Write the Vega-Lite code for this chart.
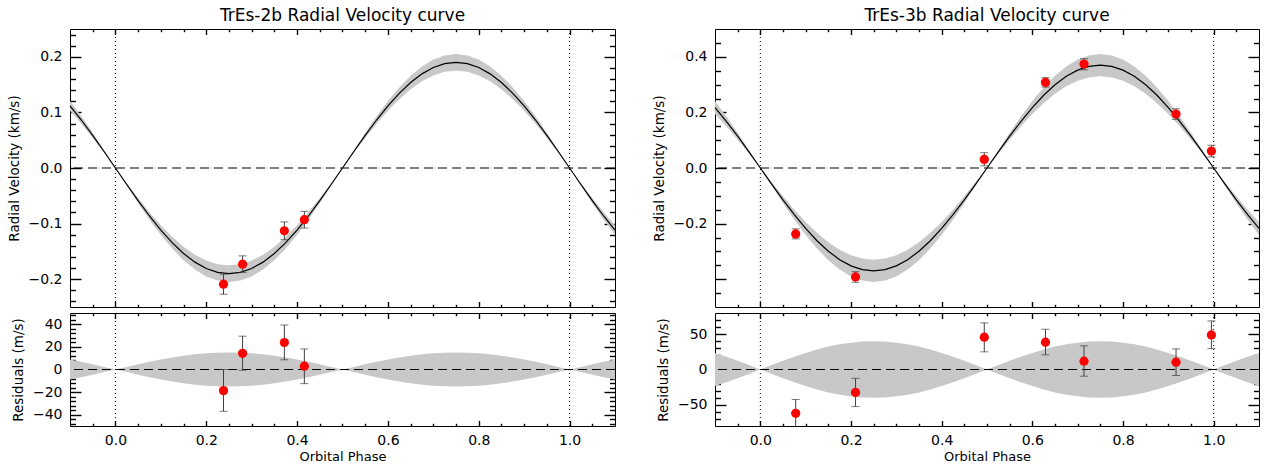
{
"$schema":"https://vega.github.io/schema/vega-lite/v6.json",
"background":"white",
"padding":{"left":6,"top":6,"right":5,"bottom":2},
"config":{
 "view":{"stroke":"black","strokeWidth":1},
 "font":"DejaVu Sans",
 "title":{"font":"DejaVu Sans","fontSize":17,"fontWeight":"normal","color":"black","offset":3,"anchor":"middle"},
 "axis":{"domain":false,"grid":false,"tickColor":"#000000","tickOpacity":1,"tickWidth":1.4,"labelFont":"DejaVu Sans","labelFontSize":14,"labelColor":"black","titleFont":"DejaVu Sans","titleFontSize":13.5,"titleFontWeight":"normal","titleColor":"black","minExtent":0,"labelOverlap":false,"labelFlush":false,"zindex":2}
},
"datasets":{
"m2":[
{"p":-0.1,"v":0.1117,"lo":0.1029,"hi":0.1205,"rl":-8.8,"rh":8.8},
{"p":-0.075,"v":0.0863,"lo":0.0795,"hi":0.0931,"rl":-6.8,"rh":6.8},
{"p":-0.05,"v":0.0587,"lo":0.0541,"hi":0.0633,"rl":-4.6,"rh":4.6},
{"p":-0.025,"v":0.0297,"lo":0.0274,"hi":0.032,"rl":-2.3,"rh":2.3},
{"p":0,"v":0,"lo":0,"hi":0,"rl":0,"rh":0},
{"p":0.025,"v":-0.0297,"lo":-0.032,"hi":-0.0274,"rl":-2.3,"rh":2.3},
{"p":0.05,"v":-0.0587,"lo":-0.0633,"hi":-0.0541,"rl":-4.6,"rh":4.6},
{"p":0.075,"v":-0.0863,"lo":-0.0931,"hi":-0.0795,"rl":-6.8,"rh":6.8},
{"p":0.1,"v":-0.1117,"lo":-0.1205,"hi":-0.1029,"rl":-8.8,"rh":8.8},
{"p":0.125,"v":-0.1343,"lo":-0.1449,"hi":-0.1237,"rl":-10.6,"rh":10.6},
{"p":0.15,"v":-0.1537,"lo":-0.1658,"hi":-0.1416,"rl":-12.1,"rh":12.1},
{"p":0.175,"v":-0.1693,"lo":-0.1827,"hi":-0.1559,"rl":-13.4,"rh":13.4},
{"p":0.2,"v":-0.1807,"lo":-0.195,"hi":-0.1664,"rl":-14.3,"rh":14.3},
{"p":0.225,"v":-0.1877,"lo":-0.2025,"hi":-0.1729,"rl":-14.8,"rh":14.8},
{"p":0.25,"v":-0.19,"lo":-0.205,"hi":-0.175,"rl":-15,"rh":15},
{"p":0.275,"v":-0.1877,"lo":-0.2025,"hi":-0.1729,"rl":-14.8,"rh":14.8},
{"p":0.3,"v":-0.1807,"lo":-0.195,"hi":-0.1664,"rl":-14.3,"rh":14.3},
{"p":0.325,"v":-0.1693,"lo":-0.1827,"hi":-0.1559,"rl":-13.4,"rh":13.4},
{"p":0.35,"v":-0.1537,"lo":-0.1658,"hi":-0.1416,"rl":-12.1,"rh":12.1},
{"p":0.375,"v":-0.1343,"lo":-0.1449,"hi":-0.1237,"rl":-10.6,"rh":10.6},
{"p":0.4,"v":-0.1117,"lo":-0.1205,"hi":-0.1029,"rl":-8.8,"rh":8.8},
{"p":0.425,"v":-0.0863,"lo":-0.0931,"hi":-0.0795,"rl":-6.8,"rh":6.8},
{"p":0.45,"v":-0.0587,"lo":-0.0633,"hi":-0.0541,"rl":-4.6,"rh":4.6},
{"p":0.475,"v":-0.0297,"lo":-0.032,"hi":-0.0274,"rl":-2.3,"rh":2.3},
{"p":0.5,"v":0,"lo":0,"hi":0,"rl":0,"rh":0},
{"p":0.525,"v":0.0297,"lo":0.0274,"hi":0.032,"rl":-2.3,"rh":2.3},
{"p":0.55,"v":0.0587,"lo":0.0541,"hi":0.0633,"rl":-4.6,"rh":4.6},
{"p":0.575,"v":0.0863,"lo":0.0795,"hi":0.0931,"rl":-6.8,"rh":6.8},
{"p":0.6,"v":0.1117,"lo":0.1029,"hi":0.1205,"rl":-8.8,"rh":8.8},
{"p":0.625,"v":0.1343,"lo":0.1237,"hi":0.1449,"rl":-10.6,"rh":10.6},
{"p":0.65,"v":0.1537,"lo":0.1416,"hi":0.1658,"rl":-12.1,"rh":12.1},
{"p":0.675,"v":0.1693,"lo":0.1559,"hi":0.1827,"rl":-13.4,"rh":13.4},
{"p":0.7,"v":0.1807,"lo":0.1664,"hi":0.195,"rl":-14.3,"rh":14.3},
{"p":0.725,"v":0.1877,"lo":0.1729,"hi":0.2025,"rl":-14.8,"rh":14.8},
{"p":0.75,"v":0.19,"lo":0.175,"hi":0.205,"rl":-15,"rh":15},
{"p":0.775,"v":0.1877,"lo":0.1729,"hi":0.2025,"rl":-14.8,"rh":14.8},
{"p":0.8,"v":0.1807,"lo":0.1664,"hi":0.195,"rl":-14.3,"rh":14.3},
{"p":0.825,"v":0.1693,"lo":0.1559,"hi":0.1827,"rl":-13.4,"rh":13.4},
{"p":0.85,"v":0.1537,"lo":0.1416,"hi":0.1658,"rl":-12.1,"rh":12.1},
{"p":0.875,"v":0.1343,"lo":0.1237,"hi":0.1449,"rl":-10.6,"rh":10.6},
{"p":0.9,"v":0.1117,"lo":0.1029,"hi":0.1205,"rl":-8.8,"rh":8.8},
{"p":0.925,"v":0.0863,"lo":0.0795,"hi":0.0931,"rl":-6.8,"rh":6.8},
{"p":0.95,"v":0.0587,"lo":0.0541,"hi":0.0633,"rl":-4.6,"rh":4.6},
{"p":0.975,"v":0.0297,"lo":0.0274,"hi":0.032,"rl":-2.3,"rh":2.3},
{"p":1,"v":0,"lo":0,"hi":0,"rl":0,"rh":0},
{"p":1.025,"v":-0.0297,"lo":-0.032,"hi":-0.0274,"rl":-2.3,"rh":2.3},
{"p":1.05,"v":-0.0587,"lo":-0.0633,"hi":-0.0541,"rl":-4.6,"rh":4.6},
{"p":1.075,"v":-0.0863,"lo":-0.0931,"hi":-0.0795,"rl":-6.8,"rh":6.8},
{"p":1.1,"v":-0.1117,"lo":-0.1205,"hi":-0.1029,"rl":-8.8,"rh":8.8}
],
"m3":[
{"p":-0.1,"v":0.2175,"lo":0.194,"hi":0.241,"rl":-23.5,"rh":23.5},
{"p":-0.075,"v":0.168,"lo":0.1498,"hi":0.1862,"rl":-18.2,"rh":18.2},
{"p":-0.05,"v":0.1143,"lo":0.1019,"hi":0.1267,"rl":-12.4,"rh":12.4},
{"p":-0.025,"v":0.0579,"lo":0.0516,"hi":0.0642,"rl":-6.3,"rh":6.3},
{"p":0,"v":0,"lo":0,"hi":0,"rl":0,"rh":0},
{"p":0.025,"v":-0.0579,"lo":-0.0642,"hi":-0.0516,"rl":-6.3,"rh":6.3},
{"p":0.05,"v":-0.1143,"lo":-0.1267,"hi":-0.1019,"rl":-12.4,"rh":12.4},
{"p":0.075,"v":-0.168,"lo":-0.1862,"hi":-0.1498,"rl":-18.2,"rh":18.2},
{"p":0.1,"v":-0.2175,"lo":-0.241,"hi":-0.194,"rl":-23.5,"rh":23.5},
{"p":0.125,"v":-0.2616,"lo":-0.2899,"hi":-0.2333,"rl":-28.3,"rh":28.3},
{"p":0.15,"v":-0.2993,"lo":-0.3317,"hi":-0.2669,"rl":-32.4,"rh":32.4},
{"p":0.175,"v":-0.3297,"lo":-0.3653,"hi":-0.2941,"rl":-35.6,"rh":35.6},
{"p":0.2,"v":-0.3519,"lo":-0.3899,"hi":-0.3139,"rl":-38,"rh":38},
{"p":0.225,"v":-0.3654,"lo":-0.4049,"hi":-0.3259,"rl":-39.5,"rh":39.5},
{"p":0.25,"v":-0.37,"lo":-0.41,"hi":-0.33,"rl":-40,"rh":40},
{"p":0.275,"v":-0.3654,"lo":-0.4049,"hi":-0.3259,"rl":-39.5,"rh":39.5},
{"p":0.3,"v":-0.3519,"lo":-0.3899,"hi":-0.3139,"rl":-38,"rh":38},
{"p":0.325,"v":-0.3297,"lo":-0.3653,"hi":-0.2941,"rl":-35.6,"rh":35.6},
{"p":0.35,"v":-0.2993,"lo":-0.3317,"hi":-0.2669,"rl":-32.4,"rh":32.4},
{"p":0.375,"v":-0.2616,"lo":-0.2899,"hi":-0.2333,"rl":-28.3,"rh":28.3},
{"p":0.4,"v":-0.2175,"lo":-0.241,"hi":-0.194,"rl":-23.5,"rh":23.5},
{"p":0.425,"v":-0.168,"lo":-0.1862,"hi":-0.1498,"rl":-18.2,"rh":18.2},
{"p":0.45,"v":-0.1143,"lo":-0.1267,"hi":-0.1019,"rl":-12.4,"rh":12.4},
{"p":0.475,"v":-0.0579,"lo":-0.0642,"hi":-0.0516,"rl":-6.3,"rh":6.3},
{"p":0.5,"v":0,"lo":0,"hi":0,"rl":0,"rh":0},
{"p":0.525,"v":0.0579,"lo":0.0516,"hi":0.0642,"rl":-6.3,"rh":6.3},
{"p":0.55,"v":0.1143,"lo":0.1019,"hi":0.1267,"rl":-12.4,"rh":12.4},
{"p":0.575,"v":0.168,"lo":0.1498,"hi":0.1862,"rl":-18.2,"rh":18.2},
{"p":0.6,"v":0.2175,"lo":0.194,"hi":0.241,"rl":-23.5,"rh":23.5},
{"p":0.625,"v":0.2616,"lo":0.2333,"hi":0.2899,"rl":-28.3,"rh":28.3},
{"p":0.65,"v":0.2993,"lo":0.2669,"hi":0.3317,"rl":-32.4,"rh":32.4},
{"p":0.675,"v":0.3297,"lo":0.2941,"hi":0.3653,"rl":-35.6,"rh":35.6},
{"p":0.7,"v":0.3519,"lo":0.3139,"hi":0.3899,"rl":-38,"rh":38},
{"p":0.725,"v":0.3654,"lo":0.3259,"hi":0.4049,"rl":-39.5,"rh":39.5},
{"p":0.75,"v":0.37,"lo":0.33,"hi":0.41,"rl":-40,"rh":40},
{"p":0.775,"v":0.3654,"lo":0.3259,"hi":0.4049,"rl":-39.5,"rh":39.5},
{"p":0.8,"v":0.3519,"lo":0.3139,"hi":0.3899,"rl":-38,"rh":38},
{"p":0.825,"v":0.3297,"lo":0.2941,"hi":0.3653,"rl":-35.6,"rh":35.6},
{"p":0.85,"v":0.2993,"lo":0.2669,"hi":0.3317,"rl":-32.4,"rh":32.4},
{"p":0.875,"v":0.2616,"lo":0.2333,"hi":0.2899,"rl":-28.3,"rh":28.3},
{"p":0.9,"v":0.2175,"lo":0.194,"hi":0.241,"rl":-23.5,"rh":23.5},
{"p":0.925,"v":0.168,"lo":0.1498,"hi":0.1862,"rl":-18.2,"rh":18.2},
{"p":0.95,"v":0.1143,"lo":0.1019,"hi":0.1267,"rl":-12.4,"rh":12.4},
{"p":0.975,"v":0.0579,"lo":0.0516,"hi":0.0642,"rl":-6.3,"rh":6.3},
{"p":1,"v":0,"lo":0,"hi":0,"rl":0,"rh":0},
{"p":1.025,"v":-0.0579,"lo":-0.0642,"hi":-0.0516,"rl":-6.3,"rh":6.3},
{"p":1.05,"v":-0.1143,"lo":-0.1267,"hi":-0.1019,"rl":-12.4,"rh":12.4},
{"p":1.075,"v":-0.168,"lo":-0.1862,"hi":-0.1498,"rl":-18.2,"rh":18.2},
{"p":1.1,"v":-0.2175,"lo":-0.241,"hi":-0.194,"rl":-23.5,"rh":23.5}
],
"d2":[
{"p":0.238,"v":-0.209,"vl":-0.227,"vh":-0.191,"r":-18.7,"rl":-37,"rh":0},
{"p":0.28,"v":-0.173,"vl":-0.188,"vh":-0.158,"r":14.3,"rl":-0.6,"rh":29.5},
{"p":0.372,"v":-0.113,"vl":-0.129,"vh":-0.097,"r":23.9,"rl":8.6,"rh":39.4},
{"p":0.416,"v":-0.093,"vl":-0.108,"vh":-0.078,"r":2.9,"rl":-12.5,"rh":18.2}
],
"d3":[
{"p":0.078,"v":-0.237,"vl":-0.255,"vh":-0.219,"r":-62,"rl":-82,"rh":-42.5},
{"p":0.21,"v":-0.392,"vl":-0.411,"vh":-0.373,"r":-32.5,"rl":-52.5,"rh":-12.5},
{"p":0.494,"v":0.031,"vl":0.008,"vh":0.055,"r":45.8,"rl":25,"rh":66},
{"p":0.629,"v":0.308,"vl":0.291,"vh":0.325,"r":38.7,"rl":20.8,"rh":57},
{"p":0.714,"v":0.374,"vl":0.353,"vh":0.393,"r":11.8,"rl":-9.5,"rh":33.5},
{"p":0.917,"v":0.194,"vl":0.175,"vh":0.213,"r":10.4,"rl":-8.5,"rh":29.2},
{"p":0.995,"v":0.061,"vl":0.04,"vh":0.082,"r":49,"rl":29.5,"rh":68.8}
]
},
"spacing":33,
"hconcat":[
{"vconcat":[
{"width":545,"height":278,
 "title":{"text":"TrEs-2b Radial Velocity curve","font":"DejaVu Sans","fontSize":17,"fontWeight":"normal","color":"black","offset":3},
 "layer":[
  {"data":{"name":"m2"},"mark":{"type":"area","color":"#c8c8c8"},
   "encoding":{
    "x":{"field":"p","type":"quantitative","scale":{"domain":[-0.1,1.1],"nice":false,"zero":false},"axis":null},
    "y":{"field":"lo","type":"quantitative","scale":{"domain":[-0.25,0.25],"nice":false,"zero":false},"axis":{"orient":"left","values":[-0.2,-0.1,0,0.1,0.2],"format":".1f","ticks":false,"tickSize":0,"labelPadding":8,"title":"Radial Velocity (km/s)","titlePadding":7}},
    "y2":{"field":"hi"}}},
  {"data":{"name":"m2"},"mark":{"type":"line","color":"black","strokeWidth":1.2},
   "encoding":{
    "x":{"field":"p","type":"quantitative","scale":{"domain":[-0.1,1.1],"nice":false,"zero":false},"axis":{"orient":"bottom","values":[0,0.2,0.4,0.6,0.8,1],"labels":false,"tickSize":-5.5,"title":null}},
    "y":{"field":"v","type":"quantitative","scale":{"domain":[-0.25,0.25],"nice":false,"zero":false},"axis":{"orient":"left","values":[-0.2,-0.1,0,0.1,0.2],"labels":false,"tickSize":-11,"title":null}}}},
  {"data":{"values":[{"z":0}]},"mark":{"type":"rule","color":"black","strokeWidth":1.2,"strokeDash":[9,5]},
   "encoding":{"y":{"field":"z","type":"quantitative","scale":{"domain":[-0.25,0.25],"nice":false,"zero":false},"axis":{"orient":"right","values":[-0.2,-0.1,0,0.1,0.2],"labels":false,"tickSize":-11,"title":null}}}},
  {"data":{"values":[{"p":0},{"p":1}]},"mark":{"type":"rule","color":"black","strokeDash":[1,3]},
   "encoding":{"x":{"field":"p","type":"quantitative","scale":{"domain":[-0.1,1.1],"nice":false,"zero":false},"axis":{"orient":"top","values":[0,0.2,0.4,0.6,0.8,1],"labels":false,"tickSize":-5.5,"title":null}}}},
  {"data":{"name":"d2"},"mark":{"type":"rule","color":"#404040","clip":true},
   "encoding":{
    "x":{"field":"p","type":"quantitative","scale":{"domain":[-0.1,1.1],"nice":false,"zero":false},"axis":{"orient":"bottom","values":[-0.05,0.05,0.1,0.15,0.25,0.3,0.35,0.45,0.5,0.55,0.65,0.7,0.75,0.85,0.9,0.95,1.05],"labels":false,"tickSize":-2.7,"title":null}},
    "y":{"field":"vl","type":"quantitative","scale":{"domain":[-0.25,0.25],"nice":false,"zero":false},"axis":{"orient":"left","values":[-0.24,-0.22,-0.18,-0.16,-0.14,-0.12,-0.08,-0.06,-0.04,-0.02,0.02,0.04,0.06,0.08,0.12,0.14,0.16,0.18,0.22,0.24],"labels":false,"tickSize":-5.5,"title":null}},
    "y2":{"field":"vh"}}},
  {"data":{"name":"d2"},"mark":{"type":"tick","orient":"horizontal","size":8,"thickness":1,"color":"#404040","clip":true},
   "encoding":{
    "x":{"field":"p","type":"quantitative","scale":{"domain":[-0.1,1.1],"nice":false,"zero":false},"axis":{"orient":"top","values":[-0.05,0.05,0.1,0.15,0.25,0.3,0.35,0.45,0.5,0.55,0.65,0.7,0.75,0.85,0.9,0.95,1.05],"labels":false,"tickSize":-2.7,"title":null}},
    "y":{"field":"vl","type":"quantitative","scale":{"domain":[-0.25,0.25],"nice":false,"zero":false},"axis":{"orient":"right","values":[-0.24,-0.22,-0.18,-0.16,-0.14,-0.12,-0.08,-0.06,-0.04,-0.02,0.02,0.04,0.06,0.08,0.12,0.14,0.16,0.18,0.22,0.24],"labels":false,"tickSize":-5.5,"title":null}}}},
  {"data":{"name":"d2"},"mark":{"type":"tick","orient":"horizontal","size":8,"thickness":1,"color":"#404040","clip":true},
   "encoding":{"x":{"field":"p","type":"quantitative","scale":{"domain":[-0.1,1.1],"nice":false,"zero":false},"axis":null},"y":{"field":"vh","type":"quantitative","scale":{"domain":[-0.25,0.25],"nice":false,"zero":false},"axis":null}}},
  {"data":{"name":"d2"},"mark":{"type":"circle","size":85,"color":"#ff0000","opacity":1},
   "encoding":{"x":{"field":"p","type":"quantitative","scale":{"domain":[-0.1,1.1],"nice":false,"zero":false},"axis":null},"y":{"field":"v","type":"quantitative","scale":{"domain":[-0.25,0.25],"nice":false,"zero":false},"axis":null}}}
 ],
 "resolve":{"axis":{"x":"independent","y":"independent"}}
},
{"width":545,"height":113,
 "layer":[
  {"data":{"name":"m2"},"mark":{"type":"area","color":"#c8c8c8"},
   "encoding":{
    "x":{"field":"p","type":"quantitative","scale":{"domain":[-0.1,1.1],"nice":false,"zero":false},"axis":{"orient":"bottom","values":[0,0.2,0.4,0.6,0.8,1],"format":".1f","ticks":false,"tickSize":0,"labelPadding":7.5,"title":"Orbital Phase","titleFontSize":13,"titlePadding":3}},
    "y":{"field":"rl","type":"quantitative","scale":{"domain":[-50,50],"nice":false,"zero":false},"axis":{"orient":"left","values":[-40,-20,0,20,40],"format":"d","ticks":false,"tickSize":0,"labelPadding":8,"title":"Residuals (m/s)","titlePadding":7}},
    "y2":{"field":"rh"}}},
  {"data":{"values":[{"z":0}]},"mark":{"type":"rule","color":"black","strokeWidth":1.2,"strokeDash":[9,5]},
   "encoding":{"y":{"field":"z","type":"quantitative","scale":{"domain":[-50,50],"nice":false,"zero":false},"axis":{"orient":"right","values":[-40,-20,0,20,40],"labels":false,"tickSize":-11,"title":null}}}},
  {"data":{"values":[{"p":0},{"p":1}]},"mark":{"type":"rule","color":"black","strokeDash":[1,3]},
   "encoding":{"x":{"field":"p","type":"quantitative","scale":{"domain":[-0.1,1.1],"nice":false,"zero":false},"axis":{"orient":"top","values":[0,0.2,0.4,0.6,0.8,1],"labels":false,"tickSize":-5.5,"title":null}}}},
  {"data":{"name":"d2"},"mark":{"type":"rule","color":"#404040","clip":true},
   "encoding":{
    "x":{"field":"p","type":"quantitative","scale":{"domain":[-0.1,1.1],"nice":false,"zero":false},"axis":{"orient":"bottom","values":[0,0.2,0.4,0.6,0.8,1],"labels":false,"tickSize":-5.5,"title":null}},
    "y":{"field":"rl","type":"quantitative","scale":{"domain":[-50,50],"nice":false,"zero":false},"axis":{"orient":"left","values":[-40,-20,0,20,40],"labels":false,"tickSize":-11,"title":null}},
    "y2":{"field":"rh"}}},
  {"data":{"name":"d2"},"mark":{"type":"tick","orient":"horizontal","size":8,"thickness":1,"color":"#404040","clip":true},
   "encoding":{
    "x":{"field":"p","type":"quantitative","scale":{"domain":[-0.1,1.1],"nice":false,"zero":false},"axis":{"orient":"bottom","values":[-0.05,0.05,0.1,0.15,0.25,0.3,0.35,0.45,0.5,0.55,0.65,0.7,0.75,0.85,0.9,0.95,1.05],"labels":false,"tickSize":-2.7,"title":null}},
    "y":{"field":"rl","type":"quantitative","scale":{"domain":[-50,50],"nice":false,"zero":false},"axis":{"orient":"left","values":[-48,-44,-36,-32,-28,-24,-16,-12,-8,-4,4,8,12,16,24,28,32,36,44,48],"labels":false,"tickSize":-5.5,"title":null}}}},
  {"data":{"name":"d2"},"mark":{"type":"tick","orient":"horizontal","size":8,"thickness":1,"color":"#404040","clip":true},
   "encoding":{
    "x":{"field":"p","type":"quantitative","scale":{"domain":[-0.1,1.1],"nice":false,"zero":false},"axis":{"orient":"top","values":[-0.05,0.05,0.1,0.15,0.25,0.3,0.35,0.45,0.5,0.55,0.65,0.7,0.75,0.85,0.9,0.95,1.05],"labels":false,"tickSize":-2.7,"title":null}},
    "y":{"field":"rh","type":"quantitative","scale":{"domain":[-50,50],"nice":false,"zero":false},"axis":{"orient":"right","values":[-48,-44,-36,-32,-28,-24,-16,-12,-8,-4,4,8,12,16,24,28,32,36,44,48],"labels":false,"tickSize":-5.5,"title":null}}}},
  {"data":{"name":"d2"},"mark":{"type":"circle","size":85,"color":"#ff0000","opacity":1},
   "encoding":{"x":{"field":"p","type":"quantitative","scale":{"domain":[-0.1,1.1],"nice":false,"zero":false},"axis":null},"y":{"field":"r","type":"quantitative","scale":{"domain":[-50,50],"nice":false,"zero":false},"axis":null}}}
 ],
 "resolve":{"axis":{"x":"independent","y":"independent"}}
}
],"spacing":2},
{"vconcat":[
{"width":544,"height":278,
 "title":{"text":"TrEs-3b Radial Velocity curve","font":"DejaVu Sans","fontSize":17,"fontWeight":"normal","color":"black","offset":3},
 "layer":[
  {"data":{"name":"m3"},"mark":{"type":"area","color":"#c8c8c8"},
   "encoding":{
    "x":{"field":"p","type":"quantitative","scale":{"domain":[-0.1,1.1],"nice":false,"zero":false},"axis":null},
    "y":{"field":"lo","type":"quantitative","scale":{"domain":[-0.5,0.5],"nice":false,"zero":false},"axis":{"orient":"left","values":[-0.2,0,0.2,0.4],"format":".1f","ticks":false,"tickSize":0,"labelPadding":8,"title":"Radial Velocity (km/s)","titlePadding":7}},
    "y2":{"field":"hi"}}},
  {"data":{"name":"m3"},"mark":{"type":"line","color":"black","strokeWidth":1.2},
   "encoding":{
    "x":{"field":"p","type":"quantitative","scale":{"domain":[-0.1,1.1],"nice":false,"zero":false},"axis":{"orient":"bottom","values":[0,0.2,0.4,0.6,0.8,1],"labels":false,"tickSize":-5.5,"title":null}},
    "y":{"field":"v","type":"quantitative","scale":{"domain":[-0.5,0.5],"nice":false,"zero":false},"axis":{"orient":"left","values":[-0.4,-0.2,0,0.2,0.4],"labels":false,"tickSize":-11,"title":null}}}},
  {"data":{"values":[{"z":0}]},"mark":{"type":"rule","color":"black","strokeWidth":1.2,"strokeDash":[9,5]},
   "encoding":{"y":{"field":"z","type":"quantitative","scale":{"domain":[-0.5,0.5],"nice":false,"zero":false},"axis":{"orient":"right","values":[-0.4,-0.2,0,0.2,0.4],"labels":false,"tickSize":-11,"title":null}}}},
  {"data":{"values":[{"p":0},{"p":1}]},"mark":{"type":"rule","color":"black","strokeDash":[1,3]},
   "encoding":{"x":{"field":"p","type":"quantitative","scale":{"domain":[-0.1,1.1],"nice":false,"zero":false},"axis":{"orient":"top","values":[0,0.2,0.4,0.6,0.8,1],"labels":false,"tickSize":-5.5,"title":null}}}},
  {"data":{"name":"d3"},"mark":{"type":"rule","color":"#404040","clip":true},
   "encoding":{
    "x":{"field":"p","type":"quantitative","scale":{"domain":[-0.1,1.1],"nice":false,"zero":false},"axis":{"orient":"bottom","values":[-0.05,0.05,0.1,0.15,0.25,0.3,0.35,0.45,0.5,0.55,0.65,0.7,0.75,0.85,0.9,0.95,1.05],"labels":false,"tickSize":-2.7,"title":null}},
    "y":{"field":"vl","type":"quantitative","scale":{"domain":[-0.5,0.5],"nice":false,"zero":false},"axis":{"orient":"left","values":[-0.45,-0.35,-0.3,-0.25,-0.15,-0.1,-0.05,0.05,0.1,0.15,0.25,0.3,0.35,0.45],"labels":false,"tickSize":-5.5,"title":null}},
    "y2":{"field":"vh"}}},
  {"data":{"name":"d3"},"mark":{"type":"tick","orient":"horizontal","size":8,"thickness":1,"color":"#404040","clip":true},
   "encoding":{
    "x":{"field":"p","type":"quantitative","scale":{"domain":[-0.1,1.1],"nice":false,"zero":false},"axis":{"orient":"top","values":[-0.05,0.05,0.1,0.15,0.25,0.3,0.35,0.45,0.5,0.55,0.65,0.7,0.75,0.85,0.9,0.95,1.05],"labels":false,"tickSize":-2.7,"title":null}},
    "y":{"field":"vl","type":"quantitative","scale":{"domain":[-0.5,0.5],"nice":false,"zero":false},"axis":{"orient":"right","values":[-0.45,-0.35,-0.3,-0.25,-0.15,-0.1,-0.05,0.05,0.1,0.15,0.25,0.3,0.35,0.45],"labels":false,"tickSize":-5.5,"title":null}}}},
  {"data":{"name":"d3"},"mark":{"type":"tick","orient":"horizontal","size":8,"thickness":1,"color":"#404040","clip":true},
   "encoding":{"x":{"field":"p","type":"quantitative","scale":{"domain":[-0.1,1.1],"nice":false,"zero":false},"axis":null},"y":{"field":"vh","type":"quantitative","scale":{"domain":[-0.5,0.5],"nice":false,"zero":false},"axis":null}}},
  {"data":{"name":"d3"},"mark":{"type":"circle","size":85,"color":"#ff0000","opacity":1},
   "encoding":{"x":{"field":"p","type":"quantitative","scale":{"domain":[-0.1,1.1],"nice":false,"zero":false},"axis":null},"y":{"field":"v","type":"quantitative","scale":{"domain":[-0.5,0.5],"nice":false,"zero":false},"axis":null}}}
 ],
 "resolve":{"axis":{"x":"independent","y":"independent"}}
},
{"width":544,"height":113,
 "layer":[
  {"data":{"name":"m3"},"mark":{"type":"area","color":"#c8c8c8"},
   "encoding":{
    "x":{"field":"p","type":"quantitative","scale":{"domain":[-0.1,1.1],"nice":false,"zero":false},"axis":{"orient":"bottom","values":[0,0.2,0.4,0.6,0.8,1],"format":".1f","ticks":false,"tickSize":0,"labelPadding":7.5,"title":"Orbital Phase","titleFontSize":13,"titlePadding":3}},
    "y":{"field":"rl","type":"quantitative","scale":{"domain":[-80,80],"nice":false,"zero":false},"axis":{"orient":"left","values":[-50,0,50],"format":"d","ticks":false,"tickSize":0,"labelPadding":8,"title":"Residuals (m/s)","titlePadding":7}},
    "y2":{"field":"rh"}}},
  {"data":{"values":[{"z":0}]},"mark":{"type":"rule","color":"black","strokeWidth":1.2,"strokeDash":[9,5]},
   "encoding":{"y":{"field":"z","type":"quantitative","scale":{"domain":[-80,80],"nice":false,"zero":false},"axis":{"orient":"right","values":[-50,0,50],"labels":false,"tickSize":-11,"title":null}}}},
  {"data":{"values":[{"p":0},{"p":1}]},"mark":{"type":"rule","color":"black","strokeDash":[1,3]},
   "encoding":{"x":{"field":"p","type":"quantitative","scale":{"domain":[-0.1,1.1],"nice":false,"zero":false},"axis":{"orient":"top","values":[0,0.2,0.4,0.6,0.8,1],"labels":false,"tickSize":-5.5,"title":null}}}},
  {"data":{"name":"d3"},"mark":{"type":"rule","color":"#404040","clip":true},
   "encoding":{
    "x":{"field":"p","type":"quantitative","scale":{"domain":[-0.1,1.1],"nice":false,"zero":false},"axis":{"orient":"bottom","values":[0,0.2,0.4,0.6,0.8,1],"labels":false,"tickSize":-5.5,"title":null}},
    "y":{"field":"rl","type":"quantitative","scale":{"domain":[-80,80],"nice":false,"zero":false},"axis":{"orient":"left","values":[-50,0,50],"labels":false,"tickSize":-11,"title":null}},
    "y2":{"field":"rh"}}},
  {"data":{"name":"d3"},"mark":{"type":"tick","orient":"horizontal","size":8,"thickness":1,"color":"#404040","clip":true},
   "encoding":{
    "x":{"field":"p","type":"quantitative","scale":{"domain":[-0.1,1.1],"nice":false,"zero":false},"axis":{"orient":"bottom","values":[-0.05,0.05,0.1,0.15,0.25,0.3,0.35,0.45,0.5,0.55,0.65,0.7,0.75,0.85,0.9,0.95,1.05],"labels":false,"tickSize":-2.7,"title":null}},
    "y":{"field":"rl","type":"quantitative","scale":{"domain":[-80,80],"nice":false,"zero":false},"axis":{"orient":"left","values":[-70,-60,-40,-30,-20,-10,10,20,30,40,60,70],"labels":false,"tickSize":-5.5,"title":null}}}},
  {"data":{"name":"d3"},"mark":{"type":"tick","orient":"horizontal","size":8,"thickness":1,"color":"#404040","clip":true},
   "encoding":{
    "x":{"field":"p","type":"quantitative","scale":{"domain":[-0.1,1.1],"nice":false,"zero":false},"axis":{"orient":"top","values":[-0.05,0.05,0.1,0.15,0.25,0.3,0.35,0.45,0.5,0.55,0.65,0.7,0.75,0.85,0.9,0.95,1.05],"labels":false,"tickSize":-2.7,"title":null}},
    "y":{"field":"rh","type":"quantitative","scale":{"domain":[-80,80],"nice":false,"zero":false},"axis":{"orient":"right","values":[-70,-60,-40,-30,-20,-10,10,20,30,40,60,70],"labels":false,"tickSize":-5.5,"title":null}}}},
  {"data":{"name":"d3"},"mark":{"type":"circle","size":85,"color":"#ff0000","opacity":1},
   "encoding":{"x":{"field":"p","type":"quantitative","scale":{"domain":[-0.1,1.1],"nice":false,"zero":false},"axis":null},"y":{"field":"r","type":"quantitative","scale":{"domain":[-80,80],"nice":false,"zero":false},"axis":null}}}
 ],
 "resolve":{"axis":{"x":"independent","y":"independent"}}
}
],"spacing":2}
]
}
